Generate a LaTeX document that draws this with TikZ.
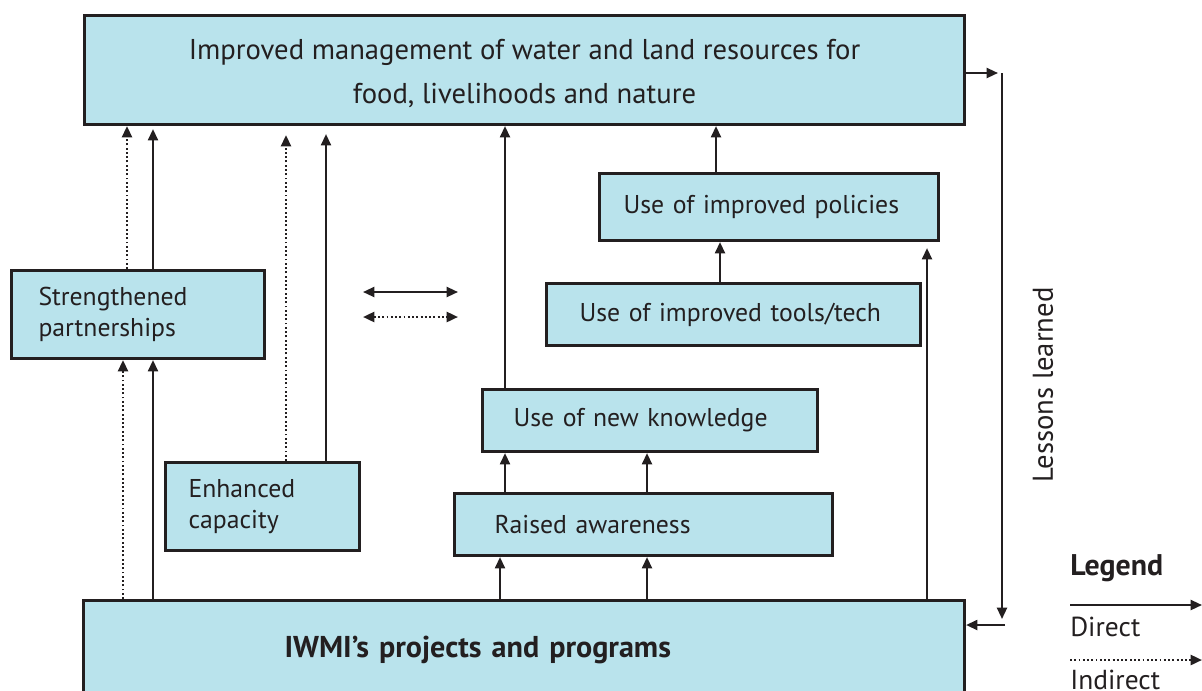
\documentclass[tikz,border=0pt]{standalone}
\usepackage{fontspec}
\setmainfont{PT Sans}
\usetikzlibrary{arrows.meta,calc}
\definecolor{boxfill}{HTML}{B9E3EC}
\definecolor{ink}{HTML}{231F20}
\begin{document}
\begin{tikzpicture}[x=0.75pt,y=-0.75pt,
  box/.style={draw=ink, fill=boxfill, line width=2.3pt, anchor=north west,
    inner ysep=0pt, text=ink, align=left, font=\fontsize{19.3}{23}\selectfont},
  arr/.style={draw=ink, line width=1.6pt, -{Triangle[length=8.5pt,width=7.5pt]}},
  dot/.style={arr, line width=1.8pt, dash pattern=on 1.4pt off 1.8pt},
  both/.style={draw=ink, line width=1.6pt, {Triangle[length=8.5pt,width=7.5pt]}-{Triangle[length=8.5pt,width=7.5pt]}},
  lbl/.style={text=ink, font=\fontsize{20.6}{23}\selectfont, inner sep=0pt}]
\useasboundingbox (0,0) rectangle (1202,690);

% boxes
\node[box, align=center, inner xsep=0pt, minimum width=880*0.75pt, minimum height=109*0.75pt,
  font=\fontsize{21.5}{33}\selectfont] (top) at (83,14)
  {\rule{0pt}{21pt}Improved management of water and land resources for\\ food, livelihoods and nature};
\node[box, minimum width=253*0.75pt, minimum height=88*0.75pt, inner xsep=27*0.75pt,
  text width=199*0.75pt] (sp) at (10,269) {Strengthened\\partnerships};
\node[box, minimum width=194*0.75pt, minimum height=88*0.75pt, inner xsep=23*0.75pt,
  text width=148*0.75pt] (ec) at (164,461) {Enhanced\\capacity};
\node[box, minimum width=339*0.75pt, minimum height=67*0.75pt, inner xsep=24*0.75pt,
  text width=291*0.75pt] (pol) at (598,172) {Use of improved policies};
\node[box, minimum width=374*0.75pt, minimum height=62*0.75pt, inner xsep=33*0.75pt,
  text width=308*0.75pt] (tool) at (545,282) {Use of improved tools/tech};
\node[box, minimum width=335*0.75pt, minimum height=62*0.75pt, inner xsep=31*0.75pt,
  text width=273*0.75pt] (unk) at (481,388) {Use of new knowledge};
\node[box, minimum width=378*0.75pt, minimum height=62*0.75pt, inner xsep=40*0.75pt,
  text width=298*0.75pt] (ra) at (453,492) {Raised awareness};
\node[box, minimum width=881*0.75pt, minimum height=98*0.75pt, inner xsep=201*0.75pt,
  text width=479*0.75pt, font=\fontsize{22.6}{26}\selectfont\bfseries] (iwmi) at (82,599)
  {IWMI’s projects and programs};

% arrows to top box
\draw[dot] (sp.north -| 127,0) -- (top.south -| 127,0);
\draw[arr, shorten >=3*0.75pt] (sp.north -| 153,0) -- (top.south -| 153,0);
\draw[dot, shorten >=9*0.75pt] (ec.north -| 286,0) -- (top.south -| 286,0);
\draw[arr, shorten >=8*0.75pt] (ec.north -| 326,0) -- (top.south -| 326,0);
\draw[arr] (unk.north -| 505,0) -- (top.south -| 505,0);
\draw[arr] (pol.north -| 716,0) -- (top.south -| 716,0);
% inner chain
\draw[arr] (tool.north -| 720,0) -- (pol.south -| 720,0);
\draw[arr] (ra.north -| 505,0) -- (unk.south -| 505,0);
\draw[arr] (ra.north -| 647,0) -- (unk.south -| 647,0);
% from IWMI
\draw[dot] (iwmi.north -| 123,0) -- (sp.south -| 123,0);
\draw[arr] (iwmi.north -| 153,0) -- (sp.south -| 153,0);
\draw[arr] (iwmi.north -| 500,0) -- (ra.south -| 500,0);
\draw[arr] (iwmi.north -| 647,0) -- (ra.south -| 647,0);
\draw[arr, shorten >=6*0.75pt] (iwmi.north -| 927,0) -- (pol.south -| 927,0);

% key arrows in the middle
\coordinate (k1a) at (363,292); \coordinate (k1b) at (458,292);
\coordinate (k2a) at (363,317); \coordinate (k2b) at (458,317);
\draw[both] (k1a) -- (k1b);
\draw[both, line width=1.8pt, dash pattern=on 1.4pt off 1.8pt] (k2a) -- (k2b);

% lessons learned loop
\coordinate (ll1) at (998,73);
\coordinate (ll2) at (1002,73);
\coordinate (ll3) at (1002,619);
\coordinate (ll4) at (1005,625);
\draw[arr] (top.east |- ll1) -- (ll1);
\draw[arr] (ll2) -- (ll3);
\draw[arr] (ll4) -- (iwmi.east |- ll4);
\node[lbl, rotate=90, font=\fontsize{21.5}{23}\selectfont] (lessons) at (1043,385) {Lessons learned};

% legend
\node[lbl, anchor=west, font=\fontsize{22.4}{23}\selectfont\bfseries] (leg) at (1070,568) {Legend};
\coordinate (lg1a) at (1070,605); \coordinate (lg1b) at (1202,605);
\coordinate (lg2a) at (1070,660); \coordinate (lg2b) at (1202,660);
\draw[arr] (lg1a) -- (lg1b);
\node[lbl, anchor=west] (direct) at (1070,627) {Direct};
\draw[dot] (lg2a) -- (lg2b);
\node[lbl, anchor=west] (indirect) at (1070,680) {Indirect};
\end{tikzpicture}
\end{document}
